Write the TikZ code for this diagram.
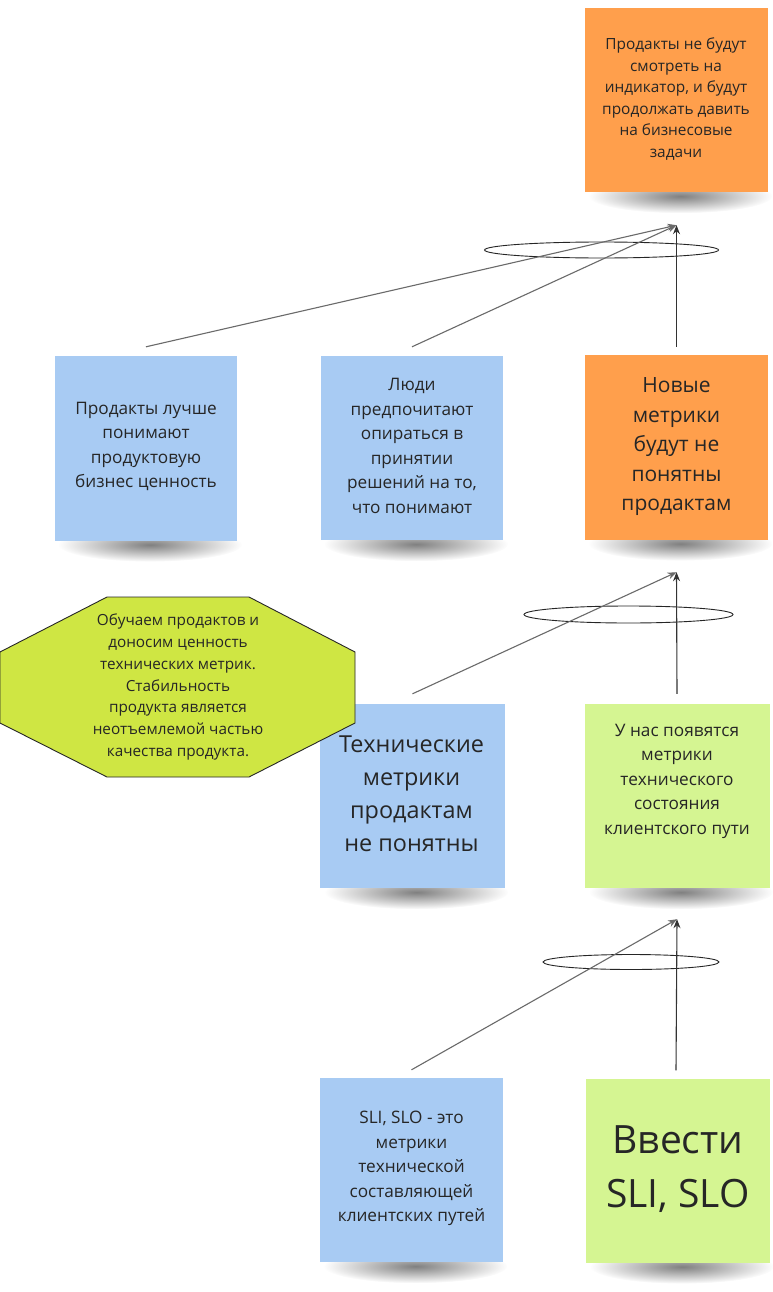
\documentclass[tikz,border=0pt]{standalone}
\usepackage{fontspec}
\setmainfont{Open Sans}
\usetikzlibrary{arrows.meta,fadings}
\definecolor{orangenote}{HTML}{FF9F4C}
\definecolor{bluenote}{HTML}{A8CBF3}
\definecolor{greennote}{HTML}{D5F592}
\definecolor{limeoct}{HTML}{CFE643}
\definecolor{txt}{HTML}{262626}
\definecolor{linegray}{HTML}{6A6A6A}
\tikzfading[name=shadowfade, inner color=transparent!50, outer color=transparent!100]
\tikzset{
  note/.style={rectangle, inner sep=0pt, minimum width=183pt, minimum height=184pt},
  notetext/.style={text=txt, align=center, inner sep=0pt},
  small/.style={notetext, font=\fontsize{15.4}{21.5}\selectfont},
  medium/.style={notetext, font=\fontsize{17.2}{24.5}\selectfont},
  large/.style={notetext, font=\fontsize{21}{29.5}\selectfont},
  larger/.style={notetext, font=\fontsize{23.4}{33}\selectfont},
  huge/.style={notetext, font=\fontsize{39}{54}\selectfont},
  slanted/.style={draw=linegray, line width=1.1pt, -{Stealth[length=9pt,width=7pt]}},
  straight/.style={draw=black!80, line width=1.1pt, -{Stealth[length=9pt,width=7pt]}},
  ring/.style={draw=black!85, line width=0.9pt},
}
\newcommand{\noteshadow}[1]{%
  \fill[black, path fading=shadowfade] ([yshift=-4pt,xshift=4pt]#1.south) ellipse (92pt and 17pt);}
\begin{document}
\begin{tikzpicture}[x=1pt,y=-1pt]
\useasboundingbox (0,0) rectangle (773,1292);
\fill[white] (0,0) rectangle (773,1292);

% note positions (centers)
\coordinate (o1c) at (676.5,100);
\coordinate (b1c) at (146,448.5);
\coordinate (b2c) at (412,448);
\coordinate (o2c) at (676.5,447.5);
\coordinate (b3c) at (412.5,796);
\coordinate (g1c) at (677,796);
\coordinate (b4c) at (411.5,1170);
\coordinate (g2c) at (678,1170.5);

% shadows (invisible placeholder nodes first)
\foreach \n in {o1,b1,b2,o2,b3,g1,b4,g2}{
  \node[note] (\n s) at (\n c) {};
  \noteshadow{\n s}
}

% notes
\node[note, fill=orangenote] (o1) at (o1c) {};
\node[note, fill=bluenote, minimum width=182pt, minimum height=185pt] (b1) at (b1c) {};
\node[note, fill=bluenote, minimum width=182pt] (b2) at (b2c) {};
\node[note, fill=orangenote, minimum height=185pt] (o2) at (o2c) {};
\node[note, fill=bluenote, minimum width=185pt] (b3) at (b3c) {};
\node[note, fill=greennote, minimum width=185pt] (g1) at (g1c) {};
\node[note, fill=bluenote] (b4) at (b4c) {};
\node[note, fill=greennote, minimum width=184pt] (g2) at (g2c) {};

% texts
\node[small] (o1t) at (676,99) {Продакты не будут\\смотреть на\\индикатор, и будут\\продолжать давить\\на бизнесовые\\задачи};
\node[medium] (b1t) at (146,446.5) {Продакты лучше\\понимают\\продуктовую\\бизнес ценность};
\node[medium] (b2t) at (412,446) {Люди\\предпочитают\\опираться в\\принятии\\решений на то,\\что понимают};
\node[large] (o2t) at (676.5,447) {Новые\\метрики\\будут не\\понятны\\продактам};
\node[larger] (b3t) at (411.5,794) {Технические\\метрики\\продактам\\не понятны};
\node[medium] (g1t) at (677,781) {У нас появятся\\метрики\\технического\\состояния\\клиентского пути};
\node[medium] (b4t) at (411.5,1168.5) {SLI, SLO - это\\метрики\\технической\\составляющей\\клиентских путей};
\node[huge] (g2t) at (678,1169) {Ввести\\SLI, SLO};

% octagon
\draw[fill=limeoct, draw=black!85, line width=0.9pt]
  (107,597) -- (249,597) -- (355,652) -- (355,723) -- (249,777) -- (107,777) -- (0,723) -- (0,652) -- cycle;
\node[small, font=\fontsize{15.3}{21.7}\selectfont] (oct) at (178,687) {Обучаем продактов и\\доносим ценность\\технических метрик.\\Стабильность\\продукта является\\неотъемлемой частью\\качества продукта.};

% ellipses
\draw[ring] (601.5,250) ellipse (117pt and 8pt);
\draw[ring] (628.5,614.5) ellipse (104.5pt and 8.5pt);
\draw[ring] (631,962) ellipse (88pt and 7.5pt);

% arrow end points
\coordinate (tip1) at ([yshift=-33pt]o1.south);
\coordinate (tip2) at ([yshift=-32pt]o2.south);
\coordinate (tip3) at ([yshift=-31pt]g1.south);

\draw[slanted] ([yshift=9pt]b1.north) -- (tip1);
\draw[slanted] ([yshift=9pt]b2.north) -- (tip1);
\draw[straight] ([yshift=8pt]o2.north) -- (tip1);

\draw[slanted] ([yshift=10pt]b3.north) -- (tip2);
\draw[straight] ([yshift=10pt]g1.north) -- (tip2);

\draw[slanted] ([yshift=8pt]b4.north) -- (tip3);
\draw[straight] ([yshift=8pt,xshift=-2pt]g2.north) -- (tip3);
\end{tikzpicture}
\end{document}
